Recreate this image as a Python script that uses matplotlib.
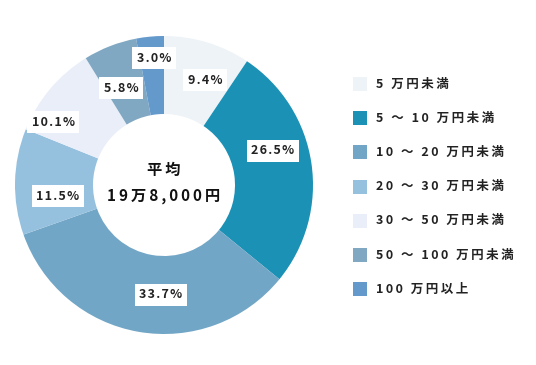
import matplotlib.pyplot as plt
from matplotlib.patches import Rectangle

plt.rcParams['font.family'] = ['Noto Sans CJK JP', 'DejaVu Sans']

# data
categories = ['5 万円未満', '5 ～ 10 万円未満', '10 ～ 20 万円未満', '20 ～ 30 万円未満',
              '30 ～ 50 万円未満', '50 ～ 100 万円未満', '100 万円以上']
shares = [9.4, 26.5, 33.7, 11.5, 10.1, 5.8, 3.0]
colors = ['#eef3f7', '#1a91b5', '#72a6c6', '#95c1df', '#e9eef8', '#80a8c2', '#6499cc']
center_lines = ['平均', '19万8,000円']

# layout (pixel space, y measured from bottom)
W, H = 536, 365
cx, cy, r_out, r_in = 164, 180, 149, 71
label_xy = [(205, 285), (273, 214), (161, 70), (58, 169), (53, 243), (121, 277), (154, 307)]


def spaced(s, gap='\u2009'):
    # mimic the wide letter spacing of the original
    return gap.join(s)


fig = plt.figure(figsize=(W / 100, H / 100), dpi=100)
ax = fig.add_axes([0, 0, 1, 1])

ax.pie(shares, colors=colors, startangle=90, counterclock=False,
       radius=r_out, center=(cx, cy), frame=True,
       wedgeprops=dict(width=r_out - r_in, linewidth=0))
ax.set_xlim(0, W)
ax.set_ylim(0, H)
ax.set_aspect('equal')
ax.axis('off')

for v, (lx, ly) in zip(shares, label_xy):
    ax.text(lx, ly, spaced(f'{v:.1f}%', '\u200a'), ha='center', va='center', fontsize=9,
            fontweight='bold', color='#222222',
            bbox=dict(facecolor='white', edgecolor='none', boxstyle='square,pad=0.35'))

ax.text(cx, 180 + 15, spaced(center_lines[0]), ha='center', va='center', fontsize=11,
        fontweight='bold', color='#111111')
ax.text(cx, 180 - 11, spaced(center_lines[1]), ha='center', va='center', fontsize=11,
        fontweight='bold', color='#111111')

# legend
for i, (name, c) in enumerate(zip(categories, colors)):
    y = H - (84 + i * 34.2)
    ax.add_patch(Rectangle((353, y - 7), 14, 14, facecolor=c, edgecolor='none'))
    ax.text(376, y, spaced(name), ha='left', va='center', fontsize=9,
            fontweight='bold', color='#222222')

fig.savefig('out.png', dpi=100)
